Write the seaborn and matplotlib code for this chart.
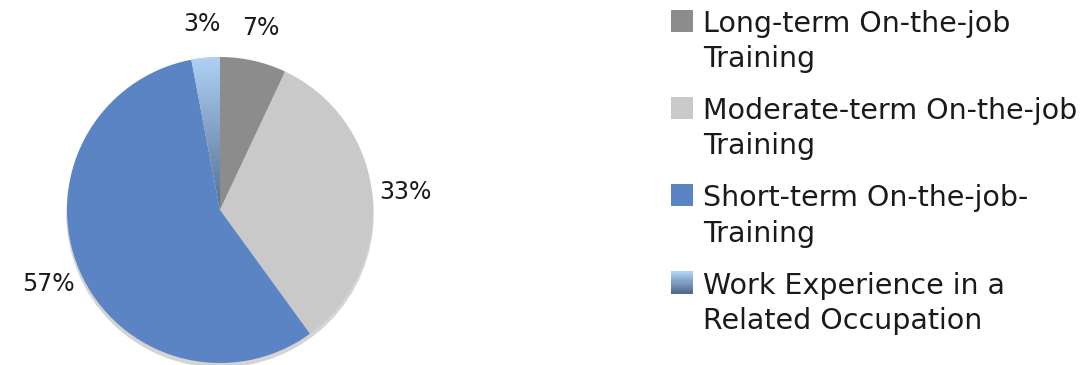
import numpy as np
import matplotlib
matplotlib.use("Agg")
import matplotlib.pyplot as plt
import seaborn as sns
from matplotlib.patches import Rectangle, Circle
from matplotlib.legend_handler import HandlerPatch
from matplotlib.colors import LinearSegmentedColormap

sns.set_theme(style="white")
plt.rcParams["font.family"] = ["DejaVu Sans"]

categories = [
    "Long-term On-the-job\nTraining",
    "Moderate-term On-the-job\nTraining",
    "Short-term On-the-job-\nTraining",
    "Work Experience in a\nRelated Occupation",
]
shares = [7, 33, 57, 3]
colors = ["#8c8c8c", "#c9c9c9", "#5b84c4", "#a8ccf0"]
grad_top, grad_bottom = "#aed1f5", "#50698a"

W, H = 1080, 365
fig = plt.figure(figsize=(W / 100, H / 100), dpi=100)

cx, cy, r = 220, 210, 153
ax = fig.add_axes([(cx - r) / W, (H - cy - r) / H, 2 * r / W, 2 * r / H])
ax.set_xlim(-1, 1)
ax.set_ylim(-1, 1)
ax.set_aspect("equal")
ax.axis("off")

# soft shadow under the pie
ax.add_patch(Circle((0.0, -0.025), 1.0, color="#d4d4d4", zorder=0, clip_on=False))

wedges, texts, autotexts = ax.pie(
    shares, colors=colors, startangle=90, counterclock=False,
    autopct="%.0f%%", pctdistance=1.22, radius=1.0,
    wedgeprops=dict(linewidth=0),
    textprops=dict(fontsize=17, color="#1a1a1a"),
)
for t in autotexts:
    t.set_clip_on(False)

# vertical gradient fill for the last wedge
cmap = LinearSegmentedColormap.from_list("wexp", [grad_bottom, grad_top])
w = wedges[3]
bb = w.get_path().get_extents()
grad = np.linspace(0, 1, 256).reshape(-1, 1)
im = ax.imshow(grad, cmap=cmap, origin="lower", aspect="auto",
               extent=[bb.x0, bb.x1, bb.y0 - 0.05, bb.y1], zorder=w.get_zorder() + 0.1)
im.set_clip_path(w)
ax.set_xlim(-1, 1)
ax.set_ylim(-1, 1)


class SquareHandler(HandlerPatch):
    def __init__(self, gradient=False, **kw):
        super().__init__(**kw)
        self.gradient = gradient

    def create_artists(self, legend, orig_handle, xdescent, ydescent,
                       width, height, fontsize, trans):
        side = 16
        x0 = -xdescent + width - side
        y0 = -ydescent + fontsize * 0.75
        if not self.gradient:
            p = Rectangle((x0, y0), side, side, facecolor=orig_handle.get_facecolor(),
                          edgecolor="none", transform=trans)
            return [p]
        arts = []
        n = 20
        cm = LinearSegmentedColormap.from_list("g", [grad_bottom, grad_top])
        for i in range(n):
            arts.append(Rectangle((x0, y0 + side * i / n), side, side / n + 0.3,
                                  facecolor=cm(i / (n - 1)), edgecolor="none",
                                  transform=trans))
        return arts


handles = [Rectangle((0, 0), 1, 1, facecolor=c) for c in colors]
handler_map = {handles[i]: SquareHandler(gradient=(i == 3)) for i in range(4)}
leg = fig.legend(
    handles, categories, handler_map=handler_map,
    loc="upper left", bbox_to_anchor=(671 / W, 1 - 10 / H),
    frameon=False, fontsize=20.5, handlelength=0.78, handleheight=0.78,
    handletextpad=0.35, labelspacing=0.85, borderpad=0, borderaxespad=0,
)
for t in leg.get_texts():
    t.set_color("#1a1a1a")
    t.set_linespacing(1.32)

fig.savefig("out.png", dpi=100)
